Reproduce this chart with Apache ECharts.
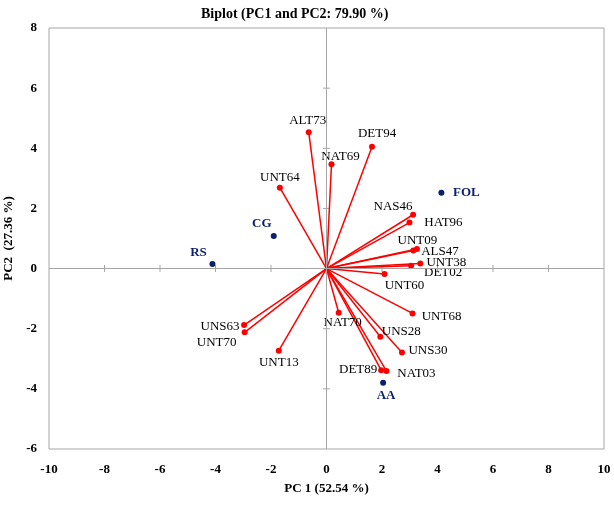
<!DOCTYPE html>
<html><head><meta charset="utf-8">
<script src="https://cdn.jsdelivr.net/npm/echarts@6/dist/echarts.min.js"></script>
<style>html,body{margin:0;padding:0;background:#fff}#c{width:614px;height:507px}</style>
</head><body><div id="c"></div>
<script>
// ---- data ----
const xTicks = [-10, -8, -6, -4, -2, 0, 2, 4, 6, 8, 10];
const yTicks = [-6, -4, -2, 0, 2, 4, 6, 8];
const varNames = ['ALT73','NAT69','DET94','UNT64','NAS46','HAT96','UNT09','ALS47','UNT38','DET02','UNT60','UNT68','NAT70','UNS28','UNS30','DET89','NAT03','UNS63','UNT70','UNT13'];
const varPC1 = [-0.64, 0.18, 1.64, -1.68, 3.12, 2.99, 3.13, 3.26, 3.38, 3.05, 2.09, 3.10, 0.44, 1.94, 2.72, 1.97, 2.16, -2.97, -2.95, -1.72];
const varPC2 = [4.53, 3.47, 4.05, 2.69, 1.79, 1.53, 0.60, 0.65, 0.17, 0.09, -0.18, -1.49, -1.47, -2.27, -2.79, -3.38, -3.41, -1.88, -2.12, -2.73];
const obsNames = ['CG','RS','FOL','AA'];
const obsPC1 = [-1.90, -4.11, 4.14, 2.04];
const obsPC2 = [1.08, 0.15, 2.52, -3.80];

// ---- label placement (style: pixel offset of label centre from point) ----
const labelOffset = {
  ALT73:[-1,-12], NAT69:[9,-8], DET94:[5,-13], UNT64:[0,-10], NAS46:[-20,-8],
  HAT96:[34,0], UNT09:[4,-10], ALS47:[23,3], UNT38:[26,-1], DET02:[32,7],
  UNT60:[20,12], UNT68:[29,3], NAT70:[4,10], UNS28:[21,-5], UNS30:[26,-2],
  DET89:[-23,-1], NAT03:[30,2], UNS63:[-24,1], UNT70:[-28,10], UNT13:[0,12],
  CG:[-12,-12], RS:[-14,-11], FOL:[25,0], AA:[3,13]
};
const SYM = 6;
function lbl(name, color){
  const o = labelOffset[name] || [0,-10];
  return {show:true, formatter:name, position:[SYM/2 + o[0], SYM/2 + o[1]],
    align:'center', verticalAlign:'middle', color:color,
    fontFamily:'Liberation Serif', fontSize:13};
}

const series = [];
// zero axes
series.push({type:'line', data:[], silent:true,
  markLine:{silent:true, symbol:'none', label:{show:false}, animation:false,
    lineStyle:{color:'#A6A6A6', width:1, type:'solid'},
    data:[{xAxis:0},{yAxis:0}]}});
// cross tick marks on zero axes
series.push({type:'scatter', silent:true, symbol:'rect', symbolSize:[1,7], z:1,
  itemStyle:{color:'#A6A6A6', opacity:1},
  data: xTicks.filter((v,i)=>v!==0 && i>0 && i<xTicks.length-1).map(v=>[v,0])});
series.push({type:'scatter', silent:true, symbol:'rect', symbolSize:[7,1], z:1,
  itemStyle:{color:'#A6A6A6', opacity:1},
  data: yTicks.filter((v,i)=>v!==0 && i>0 && i<yTicks.length-1).map(v=>[0,v])});
// vectors
varNames.forEach((n,i)=>{
  series.push({type:'line', silent:true, z:3, symbol:'none',
    lineStyle:{color:'#FF0000', width:1.5},
    data:[[0,0],[varPC1[i], varPC2[i]]]});
});
series.push({type:'scatter', z:4, symbol:'circle', symbolSize:SYM,
  itemStyle:{color:'#FF0000', opacity:1},
  data: varNames.map((n,i)=>({value:[varPC1[i], varPC2[i]], label:lbl(n,'#000000')}))});
// observations
series.push({type:'scatter', z:4, symbol:'circle', symbolSize:SYM,
  itemStyle:{color:'#0A1F6E', opacity:1},
  data: obsNames.map((n,i)=>({value:[obsPC1[i], obsPC2[i]], label:Object.assign(lbl(n,'#0A1F6E'),{fontWeight:'bold'})}))});

const chart = echarts.init(document.getElementById('c'), null, {renderer:'canvas'});
chart.setOption({
  animation:false,
  backgroundColor:'#ffffff',
  title:{text:'Biplot (PC1 and PC2: 79.90 %)', left:196, top:2,
    textStyle:{fontFamily:'Liberation Serif', fontSize:14, fontWeight:'bold', color:'#000'}},
  grid:{left:49, right:10, top:28, bottom:58, containLabel:false, outerBoundsMode:'none',
    show:true, borderColor:'#A6A6A6', borderWidth:1, backgroundColor:'transparent'},
  xAxis:{type:'value', min:xTicks[0], max:xTicks[xTicks.length-1], interval:2,
    name:'PC 1 (52.54 %)', nameLocation:'middle', nameGap:33,
    nameTextStyle:{fontFamily:'Liberation Serif', fontSize:13, fontWeight:'bold', color:'#000'},
    axisLine:{show:false}, axisTick:{show:false}, splitLine:{show:false},
    axisLabel:{margin:14, fontFamily:'Liberation Serif', fontSize:13, fontWeight:'bold', color:'#000'}},
  yAxis:{type:'value', min:yTicks[0], max:yTicks[yTicks.length-1], interval:2,
    name:'PC2  (27.36 %)', nameLocation:'middle', nameGap:32, nameRotate:90,
    nameTextStyle:{fontFamily:'Liberation Serif', fontSize:13, fontWeight:'bold', color:'#000'},
    axisLine:{show:false}, axisTick:{show:false}, splitLine:{show:false},
    axisLabel:{margin:12, fontFamily:'Liberation Serif', fontSize:13, fontWeight:'bold', color:'#000'}},
  series: series
});
</script></body></html>
